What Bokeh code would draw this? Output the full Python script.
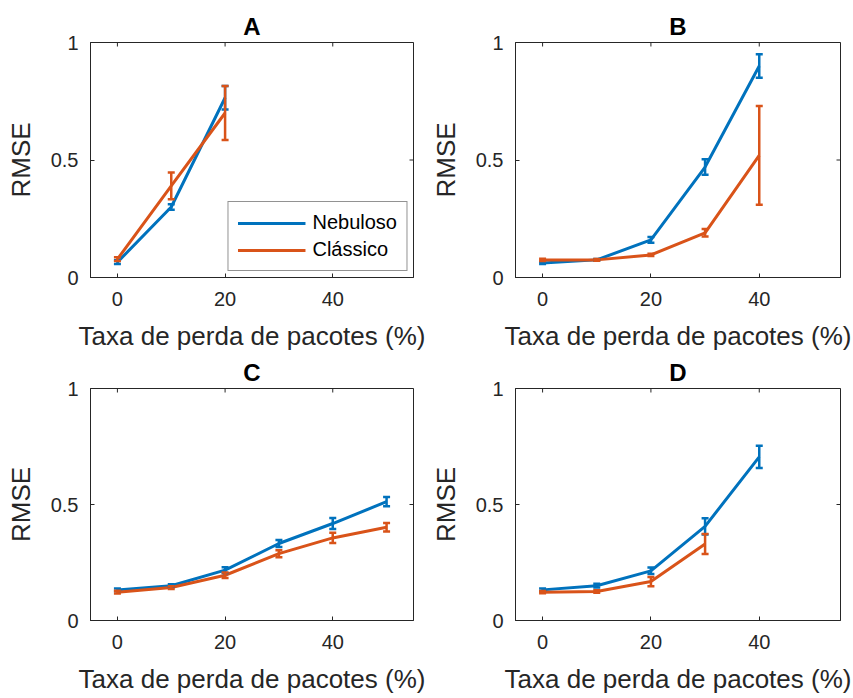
import math

from bokeh.plotting import figure
from bokeh.layouts import gridplot
from bokeh.models import (ColumnDataSource, Whisker, TeeHead, FixedTicker,
                          Range1d, Legend, LegendItem)
from bokeh.embed import file_html
from bokeh.resources import INLINE

# Packet-loss rates (%) and RMSE means / half-widths of the error bars
x_ticks = [0, 20, 40]
y_ticks = [0, 0.5, 1]
y_tick_labels = ["0", "0.5", "1"]
x_limits = (-5, 55)
y_limits = (0, 1)

a_x_neb = [0, 10, 20]
a_neb = [0.065, 0.30, 0.765]
a_neb_err = [0.008, 0.012, 0.05]
a_x_cla = [0, 10, 20]
a_cla = [0.078, 0.39, 0.70]
a_cla_err = [0.008, 0.057, 0.115]

b_x_neb = [0, 10, 20, 30, 40]
b_neb = [0.062, 0.075, 0.16, 0.47, 0.90]
b_neb_err = [0.005, 0.004, 0.012, 0.033, 0.05]
b_x_cla = [0, 10, 20, 30, 40]
b_cla = [0.075, 0.075, 0.096, 0.19, 0.52]
b_cla_err = [0.005, 0.004, 0.005, 0.016, 0.21]

c_x_neb = [0, 10, 20, 30, 40, 50]
c_neb = [0.132, 0.15, 0.217, 0.332, 0.418, 0.512]
c_neb_err = [0.006, 0.006, 0.012, 0.015, 0.024, 0.02]
c_x_cla = [0, 10, 20, 30, 40, 50]
c_cla = [0.122, 0.142, 0.195, 0.288, 0.356, 0.402]
c_cla_err = [0.006, 0.006, 0.012, 0.015, 0.022, 0.018]

d_x_neb = [0, 10, 20, 30, 40]
d_neb = [0.132, 0.15, 0.214, 0.406, 0.705]
d_neb_err = [0.006, 0.008, 0.014, 0.035, 0.048]
d_x_cla = [0, 10, 20, 30]
d_cla = [0.122, 0.125, 0.168, 0.33]
d_cla_err = [0.005, 0.005, 0.02, 0.043]

series_names = ["Nebuloso", "Clássico"]
BLUE = "#0072BD"
ORANGE = "#D95319"
AXIS = "#262626"
FONT = "Liberation Sans"
X_LABEL = "Taxa de perda de pacotes (%)"
Y_LABEL = "RMSE"


def style_axis(ax, ticker, overrides=None):
    ax.ticker = FixedTicker(ticks=ticker)
    ax.axis_line_color = AXIS
    ax.axis_line_width = 1
    ax.major_tick_line_color = AXIS
    ax.major_tick_in = 4
    ax.major_tick_out = 0
    ax.minor_tick_line_color = None
    ax.major_label_text_font = FONT
    ax.major_label_text_font_size = "20px"
    ax.major_label_text_color = AXIS
    ax.axis_label_text_font = FONT
    ax.axis_label_text_font_size = "26px"
    ax.axis_label_text_font_style = "normal"
    ax.axis_label_text_color = AXIS
    if overrides:
        ax.major_label_overrides = overrides


def box_ticks(p):
    # inward tick marks on the top and right edges of the box (clipped to the frame)
    p.scatter(x=x_ticks, y=[y_limits[1]] * len(x_ticks), marker="dash",
              size=8, angle=math.pi / 2, line_color=AXIS, line_width=1)
    p.scatter(x=[x_limits[1]] * len(y_ticks), y=y_ticks, marker="dash",
              size=8, angle=0, line_color=AXIS, line_width=1)


def series(p, xs, ys, errs, color):
    src = ColumnDataSource(dict(
        x=xs, y=ys,
        lo=[v - e for v, e in zip(ys, errs)],
        hi=[v + e for v, e in zip(ys, errs)],
    ))
    r = p.line("x", "y", source=src, line_color=color, line_width=3)
    w = Whisker(base="x", lower="lo", upper="hi", source=src, level="glyph",
                line_color=color, line_width=2.5,
                upper_head=TeeHead(size=7, line_color=color, line_width=2.5),
                lower_head=TeeHead(size=7, line_color=color, line_width=2.5))
    p.add_layout(w)
    return r


def panel(title, xn, yn, en, xc, yc, ec, width, height, left, right, top, bottom,
          legend=False):
    p = figure(width=width, height=height, output_backend="svg",
               toolbar_location=None, x_range=Range1d(*x_limits),
               y_range=Range1d(*y_limits), min_border_left=left,
               min_border_right=right, min_border_top=top,
               min_border_bottom=bottom, title=title)
    p.title.text_font = FONT
    p.title.text_font_size = "24px"
    p.title.text_font_style = "bold"
    p.title.text_color = "#000000"
    p.title.align = "center"
    p.title.offset = 0
    p.title.standoff = 6
    p.xgrid.visible = False
    p.ygrid.visible = False
    p.outline_line_color = AXIS
    p.outline_line_width = 1
    p.background_fill_color = "white"
    p.border_fill_color = "white"

    style_axis(p.xaxis[0], x_ticks)
    p.xaxis[0].axis_label = X_LABEL
    p.xaxis[0].major_label_standoff = 14
    p.xaxis[0].axis_label_standoff = 12
    style_axis(p.yaxis[0], y_ticks,
               overrides={t: s for t, s in zip(y_ticks, y_tick_labels)})
    p.yaxis[0].axis_label = Y_LABEL
    p.yaxis[0].major_label_standoff = 12
    p.yaxis[0].axis_label_standoff = 12

    box_ticks(p)
    rn = series(p, xn, yn, en, BLUE)
    rc = series(p, xc, yc, ec, ORANGE)

    if legend:
        lg = Legend(items=[LegendItem(label=series_names[0], renderers=[rn]),
                           LegendItem(label=series_names[1], renderers=[rc])],
                    location="bottom_right")
        lg.label_text_font = FONT
        lg.label_text_font_size = "20px"
        lg.label_text_color = "#000000"
        lg.glyph_width = 68
        lg.glyph_height = 22
        lg.label_height = 22
        lg.label_standoff = 7
        lg.spacing = 4
        lg.padding = 9
        lg.margin = 6
        lg.border_line_color = AXIS
        lg.border_line_width = 1
        lg.background_fill_alpha = 1
        p.add_layout(lg)
    return p


pA = panel("A", a_x_neb, a_neb, a_neb_err, a_x_cla, a_cla, a_cla_err,
           425, 353, 90, 12, 42, 76, legend=True)
pB = panel("B", b_x_neb, b_neb, b_neb_err, b_x_cla, b_cla, b_cla_err,
           428, 353, 90, 13, 42, 76)
pC = panel("C", c_x_neb, c_neb, c_neb_err, c_x_cla, c_cla, c_cla_err,
           425, 345, 90, 12, 33, 78)
pD = panel("D", d_x_neb, d_neb, d_neb_err, d_x_cla, d_cla, d_cla_err,
           428, 345, 90, 13, 33, 78)

grid = gridplot([[pA, pB], [pC, pD]], toolbar_location=None)

with open("out.html", "w") as f:
    f.write(file_html(grid, INLINE))
